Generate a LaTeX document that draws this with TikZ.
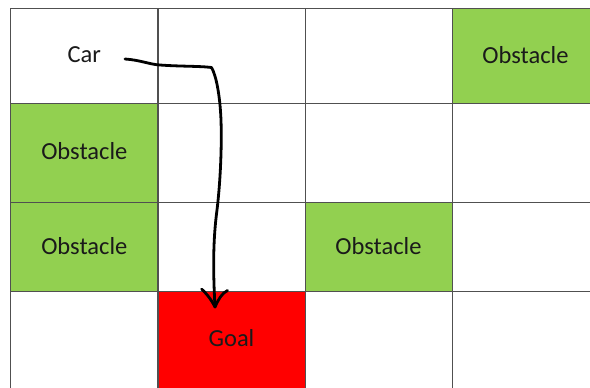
\documentclass[tikz,border=0pt]{standalone}
\usepackage{fontspec}
\setmainfont{Carlito}
\definecolor{obsgreen}{HTML}{92D050}
\definecolor{goalred}{HTML}{FF0000}
\definecolor{gridline}{HTML}{505050}
\definecolor{txt}{HTML}{1A1A1A}
\begin{document}
\begin{tikzpicture}[x=1pt,y=-1pt,
  cell/.style={draw=gridline, line width=0.9pt, inner sep=0pt, minimum width=147pt,
    font=\fontsize{24.5}{29}\selectfont, text=txt},
  obstacle/.style={cell, fill=obsgreen},
  goal/.style={cell, fill=goalred},
  path/.style={line width=2.8pt, line cap=round, line join=round, black}]
\useasboundingbox (0,0) rectangle (590,388);
\clip (0,0) rectangle (590,388);
\fill[white] (0,0) rectangle (590,388);
% row 1 (y 8 - 103)
\node[cell, minimum height=95pt] (c11) at (84.3,55.5) {\raisebox{2pt}{Car}};
\node[cell, minimum height=95pt] (c12) at (231.5,55.5) {};
\node[cell, minimum height=95pt] (c13) at (378.5,55.5) {};
\node[obstacle, minimum height=95pt] (c14) at (525.5,55.5) {\raisebox{2pt}{Obstacle}};
% row 2 (y 103 - 202)
\node[obstacle, minimum height=99pt] (c21) at (84.3,152.5) {\raisebox{4pt}{Obstacle}};
\node[cell, minimum height=99pt] (c22) at (231.5,152.5) {};
\node[cell, minimum height=99pt] (c23) at (378.5,152.5) {};
\node[cell, minimum height=99pt] (c24) at (525.5,152.5) {};
% row 3 (y 202 - 291)
\node[obstacle, minimum height=89pt] (c31) at (84.3,246.5) {Obstacle};
\node[cell, minimum height=89pt] (c32) at (231.5,246.5) {};
\node[obstacle, minimum height=89pt] (c33) at (378.5,246.5) {Obstacle};
\node[cell, minimum height=89pt] (c34) at (525.5,246.5) {};
% row 4 (y 291 - beyond the lower edge)
\node[cell, minimum height=102pt] (c41) at (84.3,342) {};
\node[goal, minimum height=102pt] (c42) at (231.5,342) {\raisebox{9pt}{Goal}};
\node[cell, minimum height=102pt] (c43) at (378.5,342) {};
\node[cell, minimum height=102pt] (c44) at (525.5,342) {};
% hand-drawn path
\coordinate (start) at (125,59);
\coordinate (corner) at (211.5,67.5);
\coordinate (tip) at (215,307);
\coordinate (armL) at (201.5,289);
\coordinate (armR) at (227.5,290.5);
\draw[path] (start) .. controls (140,60) and (150,64.5) .. (160,65)
  .. controls (180,66.5) and (200,66) .. (corner)
  .. controls (216,75) and (220,95) .. (221,120)
  .. controls (222,150) and (220,185) .. (217,210)
  .. controls (213,240) and (213,270) .. (tip);
\draw[path] (armL) .. controls (206,293) and (211,299) .. (tip)
  .. controls (218,300) and (222,293) .. (armR);
\end{tikzpicture}
\end{document}
